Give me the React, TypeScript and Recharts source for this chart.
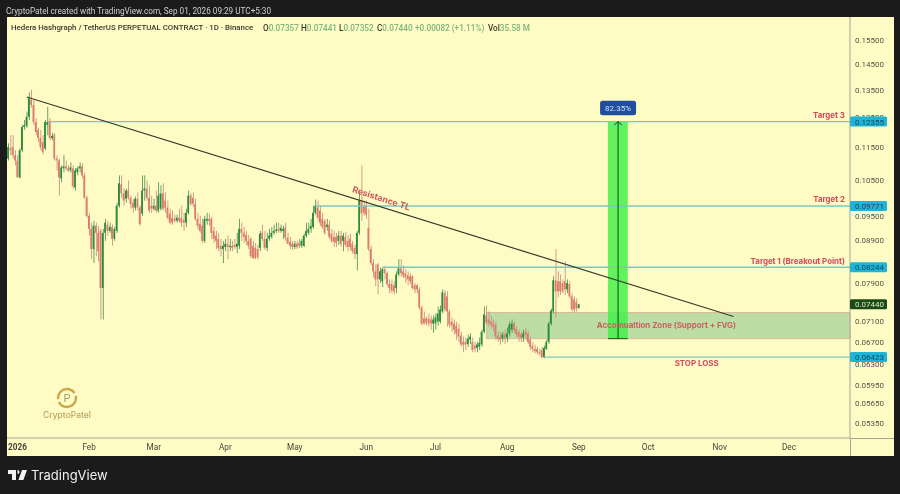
import React from 'react';
import { ComposedChart, Bar, XAxis, YAxis, ReferenceLine, ReferenceArea, ReferenceDot } from 'recharts';

// daily candles, first row is 4 days before 1 Jan 2026, ten per line
const opens = [
  0.1115, 0.1147, 0.1151, 0.1125, 0.1109, 0.1058, 0.1141, 0.1217, 0.1221, 0.1252,
  0.1312, 0.1294, 0.1234, 0.1207, 0.1180, 0.1167, 0.1147, 0.1224, 0.1234, 0.1180,
  0.1190, 0.1115, 0.1109, 0.1055, 0.1085, 0.1091, 0.1085, 0.1079, 0.1085, 0.1029,
  0.1073, 0.1085, 0.1091, 0.1064, 0.1000, 0.0951, 0.0917, 0.0867, 0.0925, 0.0907,
  0.0912, 0.0778, 0.0907, 0.0928, 0.0912, 0.0922, 0.0892, 0.0912, 0.0978, 0.1038,
  0.1012, 0.0997, 0.1020, 0.1000, 0.0986, 0.0973, 0.0997, 0.0973, 0.0957, 0.1020,
  0.1026, 0.1000, 0.0978, 0.0970, 0.0978, 0.0965, 0.0970, 0.1012, 0.0992, 0.0973,
  0.0957, 0.0946, 0.0943, 0.0938, 0.0946, 0.0946, 0.0941, 0.0933, 0.0959, 0.1006,
  0.1000, 0.0983, 0.0943, 0.0930, 0.0925, 0.0887, 0.0938, 0.0943, 0.0943, 0.0912,
  0.0900, 0.0892, 0.0875, 0.0867, 0.0872, 0.0880, 0.0872, 0.0875, 0.0877, 0.0872,
  0.0875, 0.0917, 0.0907, 0.0902, 0.0887, 0.0892, 0.0875, 0.0870, 0.0867, 0.0870,
  0.0907, 0.0892, 0.0870, 0.0892, 0.0897, 0.0907, 0.0912, 0.0917, 0.0912, 0.0912,
  0.0920, 0.0895, 0.0885, 0.0880, 0.0872, 0.0880, 0.0882, 0.0875, 0.0875, 0.0900,
  0.0907, 0.0917, 0.0922, 0.0959, 0.0973, 0.0965, 0.0943, 0.0938, 0.0922, 0.0928,
  0.0905, 0.0897, 0.0897, 0.0887, 0.0900, 0.0887, 0.0897, 0.0887, 0.0892, 0.0880,
  0.0870, 0.0855, 0.0907, 0.0992, 0.0978, 0.0978, 0.0920, 0.0867, 0.0834, 0.0815,
  0.0831, 0.0797, 0.0793, 0.0820, 0.0811, 0.0787, 0.0787, 0.0784, 0.0778, 0.0808,
  0.0822, 0.0815, 0.0811, 0.0806, 0.0804, 0.0804, 0.0784, 0.0784, 0.0775, 0.0737,
  0.0715, 0.0715, 0.0715, 0.0713, 0.0705, 0.0705, 0.0709, 0.0709, 0.0729, 0.0767,
  0.0760, 0.0729, 0.0709, 0.0705, 0.0701, 0.0695, 0.0682, 0.0670, 0.0670, 0.0666,
  0.0674, 0.0670, 0.0663, 0.0659, 0.0661, 0.0665, 0.0689, 0.0721, 0.0713, 0.0709,
  0.0705, 0.0703, 0.0682, 0.0678, 0.0676, 0.0684, 0.0678, 0.0686, 0.0693, 0.0705,
  0.0695, 0.0689, 0.0684, 0.0678, 0.0689, 0.0686, 0.0674, 0.0663, 0.0657, 0.0657,
  0.0651, 0.0655, 0.0642, 0.0657, 0.0670, 0.0705, 0.0729, 0.0795, 0.0793, 0.0793,
  0.0789, 0.0793, 0.0775, 0.0787, 0.0760, 0.0754, 0.0749, 0.07357,
];
const closes = [
  0.1151, 0.1141, 0.1125, 0.1109, 0.1058, 0.1141, 0.1217, 0.1224, 0.1252, 0.1318,
  0.1294, 0.1234, 0.1200, 0.1180, 0.1151, 0.1135, 0.1234, 0.1234, 0.1180, 0.1187,
  0.1115, 0.1109, 0.1058, 0.1088, 0.1091, 0.1085, 0.1079, 0.1088, 0.1032, 0.1079,
  0.1085, 0.1091, 0.1064, 0.1000, 0.0951, 0.0917, 0.0867, 0.0925, 0.0907, 0.0862,
  0.0778, 0.0907, 0.0933, 0.0912, 0.0922, 0.0892, 0.0917, 0.0978, 0.1041, 0.1012,
  0.0992, 0.1020, 0.1000, 0.0983, 0.0973, 0.0997, 0.0973, 0.0930, 0.1020, 0.1026,
  0.1000, 0.0965, 0.0970, 0.0978, 0.0965, 0.1006, 0.1012, 0.0970, 0.0973, 0.0946,
  0.0933, 0.0933, 0.0938, 0.0946, 0.0938, 0.0933, 0.0933, 0.0959, 0.1006, 0.0983,
  0.0983, 0.0943, 0.0925, 0.0912, 0.0887, 0.0943, 0.0943, 0.0938, 0.0907, 0.0892,
  0.0887, 0.0870, 0.0867, 0.0875, 0.0880, 0.0872, 0.0875, 0.0870, 0.0872, 0.0880,
  0.0917, 0.0907, 0.0897, 0.0887, 0.0875, 0.0850, 0.0846, 0.0846, 0.0848, 0.0905,
  0.0892, 0.0870, 0.0892, 0.0900, 0.0907, 0.0912, 0.0915, 0.0912, 0.0920, 0.0917,
  0.0895, 0.0880, 0.0875, 0.0872, 0.0880, 0.0872, 0.0875, 0.0887, 0.0900, 0.0912,
  0.0917, 0.0925, 0.0959, 0.0978, 0.0946, 0.0933, 0.0922, 0.0907, 0.0928, 0.0897,
  0.0887, 0.0885, 0.0882, 0.0900, 0.0880, 0.0900, 0.0877, 0.0872, 0.0872, 0.0862,
  0.0855, 0.0907, 0.0992, 0.0957, 0.0959, 0.0954, 0.0867, 0.0834, 0.0815, 0.0797,
  0.0797, 0.0815, 0.0820, 0.0811, 0.0787, 0.0778, 0.0773, 0.0771, 0.0808, 0.0822,
  0.0811, 0.0806, 0.0802, 0.0797, 0.0793, 0.0778, 0.0775, 0.0775, 0.0737, 0.0705,
  0.0705, 0.0707, 0.0705, 0.0705, 0.0713, 0.0717, 0.0725, 0.0733, 0.0769, 0.0733,
  0.0729, 0.0703, 0.0701, 0.0693, 0.0686, 0.0680, 0.0665, 0.0665, 0.0665, 0.0676,
  0.0680, 0.0655, 0.0657, 0.0665, 0.0668, 0.0689, 0.0723, 0.0707, 0.0705, 0.0703,
  0.0699, 0.0680, 0.0676, 0.0674, 0.0684, 0.0676, 0.0686, 0.0703, 0.0705, 0.0693,
  0.0684, 0.0680, 0.0678, 0.0686, 0.0682, 0.0670, 0.0661, 0.0657, 0.0653, 0.0651,
  0.0649, 0.0642, 0.0659, 0.0670, 0.0705, 0.0731, 0.0795, 0.0771, 0.0771, 0.0771,
  0.0771, 0.0775, 0.0789, 0.0760, 0.0733, 0.0733, 0.0735, 0.07440,
];
const highs = [
  0.1163, 0.1190, 0.1190, 0.1141, 0.1125, 0.1147, 0.1224, 0.1241, 0.1270, 0.1340,
  0.1350, 0.1312, 0.1248, 0.1214, 0.1207, 0.1190, 0.1241, 0.1287, 0.1248, 0.1197,
  0.1197, 0.1125, 0.1115, 0.1094, 0.1125, 0.1109, 0.1094, 0.1103, 0.1094, 0.1085,
  0.1091, 0.1103, 0.1100, 0.1073, 0.1006, 0.0959, 0.0933, 0.0938, 0.0933, 0.0925,
  0.0917, 0.0917, 0.0943, 0.0938, 0.0933, 0.0928, 0.0922, 0.0986, 0.1064, 0.1064,
  0.1026, 0.1026, 0.1049, 0.1006, 0.0997, 0.1003, 0.1015, 0.0978, 0.1064, 0.1064,
  0.1049, 0.1035, 0.1006, 0.0997, 0.1020, 0.1044, 0.1035, 0.1041, 0.1015, 0.0992,
  0.0970, 0.0965, 0.0954, 0.0954, 0.0970, 0.0978, 0.0959, 0.0970, 0.1020, 0.1012,
  0.1015, 0.0997, 0.0959, 0.0951, 0.0943, 0.0951, 0.0959, 0.0957, 0.0949, 0.0922,
  0.0912, 0.0907, 0.0892, 0.0887, 0.0892, 0.0900, 0.0892, 0.0887, 0.0892, 0.0907,
  0.0943, 0.0933, 0.0922, 0.0912, 0.0902, 0.0897, 0.0887, 0.0882, 0.0877, 0.0912,
  0.0928, 0.0912, 0.0907, 0.0917, 0.0922, 0.0928, 0.0933, 0.0933, 0.0928, 0.0925,
  0.0933, 0.0907, 0.0897, 0.0887, 0.0887, 0.0887, 0.0892, 0.0892, 0.0905, 0.0933,
  0.0933, 0.0943, 0.0978, 0.0995, 0.0992, 0.0978, 0.0959, 0.0943, 0.0943, 0.0938,
  0.0917, 0.0912, 0.0907, 0.0912, 0.0912, 0.0907, 0.0910, 0.0902, 0.0905, 0.0887,
  0.0877, 0.0912, 0.1015, 0.1094, 0.0992, 0.0992, 0.0970, 0.0875, 0.0843, 0.0831,
  0.0834, 0.0824, 0.0824, 0.0827, 0.0815, 0.0797, 0.0797, 0.0793, 0.0815, 0.0843,
  0.0843, 0.0829, 0.0820, 0.0815, 0.0811, 0.0806, 0.0789, 0.0787, 0.0780, 0.0741,
  0.0729, 0.0719, 0.0725, 0.0721, 0.0721, 0.0725, 0.0739, 0.0741, 0.0775, 0.0773,
  0.0771, 0.0733, 0.0717, 0.0713, 0.0709, 0.0705, 0.0689, 0.0680, 0.0678, 0.0684,
  0.0686, 0.0678, 0.0670, 0.0670, 0.0678, 0.0693, 0.0739, 0.0741, 0.0729, 0.0721,
  0.0713, 0.0709, 0.0689, 0.0689, 0.0689, 0.0693, 0.0697, 0.0709, 0.0713, 0.0709,
  0.0701, 0.0693, 0.0689, 0.0693, 0.0697, 0.0691, 0.0680, 0.0670, 0.0665, 0.0661,
  0.0657, 0.0661, 0.0663, 0.0674, 0.0709, 0.0735, 0.0804, 0.0867, 0.0815, 0.0808,
  0.0797, 0.0838, 0.0797, 0.0793, 0.0767, 0.0760, 0.0756, 0.07441,
];
const lows = [
  0.1109, 0.1125, 0.1115, 0.1094, 0.1058, 0.1055, 0.1135, 0.1207, 0.1214, 0.1241,
  0.1284, 0.1224, 0.1190, 0.1167, 0.1141, 0.1128, 0.1141, 0.1190, 0.1173, 0.1173,
  0.1109, 0.1079, 0.1006, 0.1044, 0.1073, 0.1079, 0.1073, 0.1073, 0.1026, 0.1020,
  0.1064, 0.1073, 0.1055, 0.0997, 0.0946, 0.0900, 0.0843, 0.0834, 0.0850, 0.0838,
  0.0713, 0.0713, 0.0887, 0.0900, 0.0907, 0.0875, 0.0887, 0.0907, 0.0973, 0.1000,
  0.0978, 0.0986, 0.0995, 0.0970, 0.0959, 0.0965, 0.0965, 0.0925, 0.0951, 0.0992,
  0.0992, 0.0959, 0.0959, 0.0965, 0.0959, 0.0959, 0.0965, 0.0965, 0.0959, 0.0941,
  0.0928, 0.0928, 0.0933, 0.0933, 0.0933, 0.0922, 0.0912, 0.0922, 0.0954, 0.0978,
  0.0975, 0.0938, 0.0917, 0.0907, 0.0882, 0.0882, 0.0928, 0.0925, 0.0892, 0.0882,
  0.0867, 0.0862, 0.0850, 0.0834, 0.0862, 0.0843, 0.0862, 0.0862, 0.0867, 0.0857,
  0.0867, 0.0887, 0.0882, 0.0877, 0.0867, 0.0846, 0.0843, 0.0843, 0.0843, 0.0862,
  0.0887, 0.0865, 0.0862, 0.0887, 0.0892, 0.0902, 0.0907, 0.0907, 0.0907, 0.0892,
  0.0887, 0.0880, 0.0867, 0.0865, 0.0867, 0.0867, 0.0870, 0.0870, 0.0872, 0.0895,
  0.0902, 0.0907, 0.0917, 0.0954, 0.0938, 0.0925, 0.0917, 0.0902, 0.0912, 0.0892,
  0.0882, 0.0872, 0.0872, 0.0877, 0.0872, 0.0862, 0.0872, 0.0862, 0.0865, 0.0857,
  0.0843, 0.0817, 0.0902, 0.0938, 0.0951, 0.0943, 0.0862, 0.0829, 0.0802, 0.0782,
  0.0765, 0.0789, 0.0780, 0.0797, 0.0782, 0.0767, 0.0767, 0.0765, 0.0767, 0.0804,
  0.0802, 0.0800, 0.0789, 0.0784, 0.0787, 0.0775, 0.0767, 0.0767, 0.0733, 0.0701,
  0.0703, 0.0701, 0.0699, 0.0693, 0.0687, 0.0693, 0.0701, 0.0705, 0.0725, 0.0729,
  0.0699, 0.0697, 0.0689, 0.0684, 0.0674, 0.0670, 0.0661, 0.0651, 0.0655, 0.0661,
  0.0666, 0.0651, 0.0651, 0.0651, 0.0655, 0.0661, 0.0686, 0.0703, 0.0699, 0.0695,
  0.0689, 0.0674, 0.0670, 0.0665, 0.0670, 0.0666, 0.0670, 0.0680, 0.0687, 0.0687,
  0.0678, 0.0670, 0.0670, 0.0670, 0.0674, 0.0666, 0.0655, 0.0651, 0.0649, 0.0647,
  0.0645, 0.0640, 0.0640, 0.0655, 0.0666, 0.0701, 0.0725, 0.0717, 0.0758, 0.0763,
  0.0767, 0.0763, 0.0767, 0.0756, 0.0729, 0.0727, 0.0729, 0.07352,
];

const monthDays = [0, 31, 59, 90, 120, 151, 181, 212, 243, 273, 304, 334];
const monthLabels = ['2026', 'Feb', 'Mar', 'Apr', 'May', 'Jun', 'Jul', 'Aug', 'Sep', 'Oct', 'Nov', 'Dec'];
const plainTicks = [0.155, 0.145, 0.135, 0.125, 0.115, 0.105, 0.095, 0.089, 0.079, 0.071, 0.067, 0.063, 0.0595, 0.0565, 0.0535];
const levelTicks = [0.12355, 0.09771, 0.08244, 0.06423];
const lastPrice = 0.0744;

const FIRST_DAY = -4;
const rows = opens.map((open, i) => ({
  day: i + FIRST_DAY,
  open,
  close: closes[i],
  wick: [lows[i], highs[i]],
  body: [Math.min(open, closes[i]), Math.max(open, closes[i])],
}));

const BG = '#FFFBC4';
const DARK = '#1B1B1B';
const UP = '#2A8B3E';
const DOWN = '#DD7A6C';
const LEVEL = '#7CC8C0';
const NOTE = '#D4495F';
const FONT = 'Roboto, "Noto Sans", sans-serif';
const NOTE_FONT = 'Inter, "Noto Sans", sans-serif';

const candleRect = (upColor: string, downColor: string) => (p: any) => (
  <rect x={p.x} y={p.y} width={p.width} height={Math.max(p.height, 0.6)} fill={p.payload.close >= p.payload.open ? upColor : downColor} />
);

function PriceTick({ x, y, payload }: any) {
  const v = payload.value;
  const label = v.toFixed(5);
  const isLevel = levelTicks.includes(v);
  const isLast = v === lastPrice;
  if (!isLevel && !isLast) {
    return <text x={x + 5} y={y + 3} fontSize={8} fontFamily={FONT} fill="#55534a">{label}</text>;
  }
  return (
    <g>
      <rect x={x} y={y - 5} width={37} height={10} rx={1.5} fill={isLast ? '#1C4A14' : '#1FB4D6'} />
      <text x={x + 5} y={y + 3} fontSize={8} fontFamily={FONT} fill={isLast ? '#D9EBC8' : '#0F4A60'}>{label}</text>
    </g>
  );
}

function MonthTick({ x, y, payload }: any) {
  const label = monthLabels[monthDays.indexOf(payload.value)];
  return (
    <text x={x} y={y + 12} textAnchor="middle" fontSize={8.2} fontFamily={FONT} fontWeight={label === '2026' ? 700 : 400} fill="#45443c">{label}</text>
  );
}

const note = (text: string, anchor: string, color: string) => (p: any) => (
  <text x={p.cx} y={p.cy + 3} textAnchor={anchor} fontSize={7.9} fontWeight={700} fontFamily={NOTE_FONT} fill={color}>{text}</text>
);

const percentTag = (p: any) => (
  <g>
    <rect x={p.cx - 18} y={p.cy - 7} width={36} height={14.5} rx={2.5} fill="#1F4E9E" />
    <text x={p.cx} y={p.cy + 3} textAnchor="middle" fontSize={8} fontFamily={FONT} fill="#CFE0FF">82.35%</text>
  </g>
);

function Logo() {
  return (
    <svg width={120} height={22} style={{ position: 'absolute', left: 7, top: 464 }}>
      <path d="M1 6h8v10H5V10H1z M10.5 6 a2 2 0 1 1 0.01 4z M15 6h5l-3.6 10h-5z" fill="#F2F2F2" />
      <text x={24} y={16} fontSize={13} fontWeight={400} fontFamily={NOTE_FONT} fill="#F2F2F2">TradingView</text>
    </svg>
  );
}

function Watermark() {
  return (
    <svg width={70} height={40} style={{ position: 'absolute', left: 32, top: 385 }}>
      <circle cx={35} cy={13} r={9} fill="none" stroke="#C9A84E" strokeWidth={2.4} strokeDasharray="24 3" />
      <text x={35} y={17} textAnchor="middle" fontSize={11} fontFamily={FONT} fill="#A89A70">P</text>
      <text x={35} y={33} textAnchor="middle" fontSize={8.5} fontWeight={500} fontFamily={NOTE_FONT} fill="#B9A662">CryptoPatel</text>
    </svg>
  );
}

export default function App() {
  const green = { color: '#7DB77D' };
  const part = (left: number) => ({ position: 'absolute' as const, left, top: 0 });
  return (
    <div style={{ position: 'absolute', left: 0, top: 0, width: 900, height: 494, background: DARK, overflow: 'hidden', filter: 'blur(0.3px)' }}>
      <div style={{ position: 'absolute', left: 6, top: 6, fontSize: 8.2, fontFamily: FONT, color: '#CFCFCF', whiteSpace: 'nowrap' }}>
        CryptoPatel created with TradingView.com, Sep 01, 2026 09:29 UTC+5:30
      </div>
      <div style={{ position: 'absolute', left: 7, top: 17, width: 887, height: 439, background: BG }}>
        <ComposedChart width={887} height={439} data={rows} margin={{ top: 0, right: 0, bottom: 0, left: 0 }}>
          <XAxis
            dataKey="day"
            type="number"
            domain={[-4.55, 360.4]}
            ticks={monthDays}
            interval={0}
            height={18}
            allowDataOverflow
            tick={<MonthTick />}
            tickLine={false}
            tickSize={0}
            tickMargin={0}
            axisLine={{ stroke: '#A8A49A' }}
          />
          <XAxis xAxisId="body" dataKey="day" type="number" domain={[-4.55, 360.4]} ticks={monthDays} allowDataOverflow hide />
          <YAxis
            orientation="right"
            width={44}
            type="number"
            scale="log"
            domain={[0.0513, 0.1652]}
            allowDataOverflow
            ticks={[...plainTicks, ...levelTicks, lastPrice]}
            interval={0}
            tick={<PriceTick />}
            tickLine={false}
            tickSize={0}
            tickMargin={0}
            axisLine={{ stroke: '#A8A49A' }}
          />

          <ReferenceArea x1={203} x2={360.4} y1={0.0676} y2={0.0727} fill="#4FAE72" fillOpacity={0.38} stroke="#E0B8A0" strokeWidth={1} />
          <ReferenceArea x1={255.6} x2={264.2} y1={0.0676} y2={0.12355} fill="#45F04A" fillOpacity={0.85} stroke="none" />

          <ReferenceLine segment={[{ x: 13, y: 0.12355 }, { x: 360.4, y: 0.12355 }]} stroke={LEVEL} strokeWidth={1.2} />
          <ReferenceLine segment={[{ x: 129, y: 0.09771 }, { x: 360.4, y: 0.09771 }]} stroke={LEVEL} strokeWidth={1.4} />
          <ReferenceLine segment={[{ x: 158, y: 0.08244 }, { x: 360.4, y: 0.08244 }]} stroke={LEVEL} strokeWidth={1.4} />
          <ReferenceLine segment={[{ x: 228, y: 0.06423 }, { x: 360.4, y: 0.06423 }]} stroke={LEVEL} strokeWidth={1.4} />

          <Bar dataKey="wick" barSize={0.8} isAnimationActive={false} shape={candleRect('#3E8F50', '#C8877C')} />
          <Bar dataKey="body" xAxisId="body" barSize={1.7} isAnimationActive={false} shape={candleRect(UP, DOWN)} />

          <ReferenceLine segment={[{ x: 4, y: 0.1323 }, { x: 310, y: 0.0719 }]} stroke="#3B3A2A" strokeWidth={1.2} />

          <ReferenceLine segment={[{ x: 260, y: 0.0676 }, { x: 260, y: 0.12355 }]} stroke="#0C6A1C" strokeWidth={1.2} />
          <ReferenceLine segment={[{ x: 258.4, y: 0.1224 }, { x: 260, y: 0.12355 }]} stroke="#1D3A1D" strokeWidth={1} />
          <ReferenceLine segment={[{ x: 261.6, y: 0.1224 }, { x: 260, y: 0.12355 }]} stroke="#1D3A1D" strokeWidth={1} />
          <ReferenceLine segment={[{ x: 255.6, y: 0.0676 }, { x: 264.2, y: 0.0676 }]} stroke="#2B4A24" strokeWidth={1} />

          <ReferenceDot x={260} y={0.1284} r={0} shape={percentTag} />
          <ReferenceDot x={358.2} y={0.1258} r={0} shape={note('Target 3', 'end', NOTE)} />
          <ReferenceDot x={358.2} y={0.0996} r={0} shape={note('Target 2', 'end', NOTE)} />
          <ReferenceDot x={358.2} y={0.0839} r={0} shape={note('Target 1 (Breakout Point)', 'end', NOTE)} />
          <ReferenceDot x={280.9} y={0.0702} r={0} shape={note('Accomualtion Zone (Support + FVG)', 'middle', '#C9605F')} />
          <ReferenceDot x={294} y={0.0632} r={0} shape={note('STOP LOSS', 'middle', NOTE)} />
          <ReferenceDot
            x={157.5}
            y={0.0998}
            r={0}
            shape={(p: any) => (
              <text x={p.cx} y={p.cy + 3} textAnchor="middle" fontSize={8.8} fontWeight={700} fontFamily={NOTE_FONT} fill="#CE5A5F" transform={`rotate(18 ${p.cx} ${p.cy})`}>
                Resistance TL
              </text>
            )}
          />
        </ComposedChart>
        <div style={{ position: 'absolute', left: 843, top: 421, width: 44, height: 1, background: '#A8A49A' }} />
        <div style={{ position: 'absolute', left: 843, top: 421, width: 1, height: 18, background: '#A8A49A' }} />
      </div>
      <div style={{ position: 'absolute', left: 11, top: 23, height: 11, fontSize: 8.2, fontFamily: FONT, fontWeight: 500, color: '#3A3A30', whiteSpace: 'nowrap' }}>
        <span style={{ ...part(0), fontSize: 7.85 }}>Hedera Hashgraph / TetherUS PERPETUAL CONTRACT · 1D · Binance</span>
        <span style={part(252)}>O<span style={green}>0.07357</span></span>
        <span style={part(290)}>H<span style={green}>0.07441</span></span>
        <span style={part(328)}>L<span style={green}>0.07352</span></span>
        <span style={part(366)}>C<span style={green}>0.07440</span></span>
        <span style={{ ...part(404), ...green }}>+0.00082 (+1.11%)</span>
        <span style={part(477)}>Vol<span style={green}>35.58 M</span></span>
      </div>
      <Watermark />
      <Logo />
    </div>
  );
}
